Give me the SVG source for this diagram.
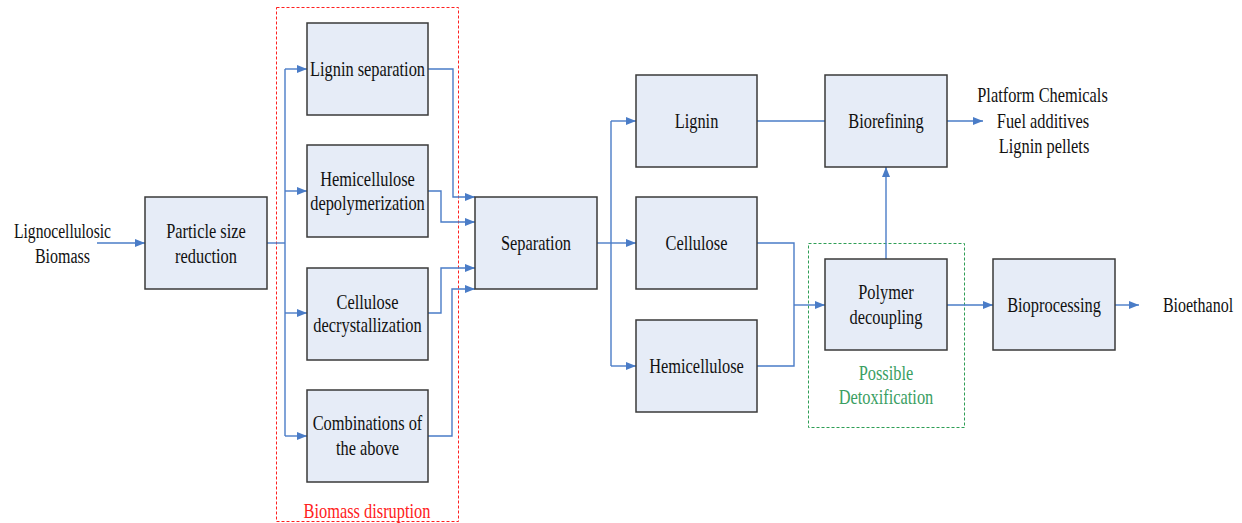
<svg xmlns="http://www.w3.org/2000/svg" width="1242" height="523" viewBox="0 0 1242 523">
<defs>
<style>
.box{fill:#E6ECF7;stroke:#3a3a3a;stroke-width:1.5}
.t{font-family:'Liberation Serif','Times New Roman',serif;font-size:20px;fill:#111;text-anchor:middle;dominant-baseline:central}
.red{fill:#FF2020}
.grn{fill:#3A9E62}
.c{fill:none;stroke:#4A7CC7;stroke-width:1.4}
.a{marker-end:url(#ah)}
</style>
<marker id="ah" viewBox="0 0 10 10" refX="10" refY="5" markerWidth="10" markerHeight="10" markerUnits="userSpaceOnUse" orient="auto">
<path d="M0,1 L10,5 L0,9 Z" fill="#4A7CC7"/>
</marker>
</defs>
<rect width="1242" height="523" fill="#fff"/>

<g id="group-disruption">
<rect x="276.5" y="7.5" width="182" height="514" fill="none" stroke="#FF2020" stroke-width="1" stroke-dasharray="3,2"/>
<text class="t red" transform="translate(367,511) scale(0.82,1)">Biomass disruption</text>
</g>
<g id="group-detox">
<rect x="808.5" y="243.5" width="156" height="184" fill="none" stroke="#2E9E55" stroke-width="1" stroke-dasharray="3,2"/>
<text class="t grn" transform="translate(886,373) scale(0.82,1)">Possible</text>
<text class="t grn" transform="translate(886,397) scale(0.82,1)">Detoxification</text>
</g>

<g id="connectors">
<path class="c a" d="M97,243 H145"/>
<path class="c" d="M267,243 H285"/>
<path class="c" d="M285,69 V436"/>
<path class="c a" d="M285,69 H307"/>
<path class="c a" d="M285,191 H307"/>
<path class="c a" d="M285,313 H307"/>
<path class="c a" d="M285,436 H307"/>
<path class="c a" d="M428,69 H453 V197 H475"/>
<path class="c a" d="M428,191 H441 V222 H475"/>
<path class="c a" d="M428,313 H441 V268 H475"/>
<path class="c a" d="M428,436 H452 V289 H475"/>
<path class="c" d="M597,243 H611"/>
<path class="c" d="M611,121 V366"/>
<path class="c a" d="M611,121 H636"/>
<path class="c a" d="M611,243 H636"/>
<path class="c a" d="M611,366 H636"/>
<path class="c" d="M757,121 H825"/>
<path class="c" d="M757,243 H794 V366 H757"/>
<path class="c a" d="M794,305 H825"/>
<path class="c a" d="M886,259 V167"/>
<path class="c a" d="M947,121 H983"/>
<path class="c a" d="M947,305 H993"/>
<path class="c a" d="M1115,305 H1139"/>
</g>

<g id="input-label">
<text class="t" transform="translate(62.5,231) scale(0.78,1)">Lignocellulosic</text>
<text class="t" transform="translate(62.5,256) scale(0.8,1)">Biomass</text>
</g>
<g id="particle-size-reduction">
<rect class="box" x="145" y="197" width="122" height="92"/>
<text class="t" transform="translate(206,231) scale(0.82,1)">Particle size</text>
<text class="t" transform="translate(206,256) scale(0.82,1)">reduction</text>
</g>
<g id="lignin-separation">
<rect class="box" x="307" y="23" width="121" height="92"/>
<text class="t" transform="translate(367.5,69) scale(0.82,1)">Lignin separation</text>
</g>
<g id="hemicellulose-depolymerization">
<rect class="box" x="307" y="145" width="121" height="92"/>
<text class="t" transform="translate(367.5,179) scale(0.82,1)">Hemicellulose</text>
<text class="t" transform="translate(367.5,203) scale(0.82,1)">depolymerization</text>
</g>
<g id="cellulose-decrystallization">
<rect class="box" x="307" y="268" width="121" height="92"/>
<text class="t" transform="translate(367.5,302) scale(0.82,1)">Cellulose</text>
<text class="t" transform="translate(367.5,325) scale(0.82,1)">decrystallization</text>
</g>
<g id="combinations">
<rect class="box" x="307" y="390" width="121" height="92"/>
<text class="t" transform="translate(367.5,423) scale(0.82,1)">Combinations of</text>
<text class="t" transform="translate(367.5,448) scale(0.82,1)">the above</text>
</g>
<g id="separation">
<rect class="box" x="475" y="197" width="122" height="92"/>
<text class="t" transform="translate(536,243) scale(0.82,1)">Separation</text>
</g>
<g id="lignin">
<rect class="box" x="636" y="75" width="121" height="92"/>
<text class="t" transform="translate(696.5,121) scale(0.82,1)">Lignin</text>
</g>
<g id="cellulose">
<rect class="box" x="636" y="197" width="121" height="92"/>
<text class="t" transform="translate(696.5,243) scale(0.82,1)">Cellulose</text>
</g>
<g id="hemicellulose">
<rect class="box" x="636" y="320" width="121" height="92"/>
<text class="t" transform="translate(696.5,366) scale(0.82,1)">Hemicellulose</text>
</g>
<g id="biorefining">
<rect class="box" x="825" y="75" width="122" height="92"/>
<text class="t" transform="translate(886,121) scale(0.82,1)">Biorefining</text>
</g>
<g id="products">
<text class="t" transform="translate(1042.5,95) scale(0.82,1)">Platform Chemicals</text>
<text class="t" transform="translate(1043,121) scale(0.82,1)">Fuel additives</text>
<text class="t" transform="translate(1044,146) scale(0.82,1)">Lignin pellets</text>
</g>
<g id="polymer-decoupling">
<rect class="box" x="825" y="259" width="122" height="91"/>
<text class="t" transform="translate(886,292) scale(0.82,1)">Polymer</text>
<text class="t" transform="translate(886,317) scale(0.82,1)">decoupling</text>
</g>
<g id="bioprocessing">
<rect class="box" x="993" y="259" width="122" height="91"/>
<text class="t" transform="translate(1054,305) scale(0.82,1)">Bioprocessing</text>
</g>
<g id="bioethanol">
<text class="t" transform="translate(1198,305) scale(0.8,1)">Bioethanol</text>
</g>
</svg>
